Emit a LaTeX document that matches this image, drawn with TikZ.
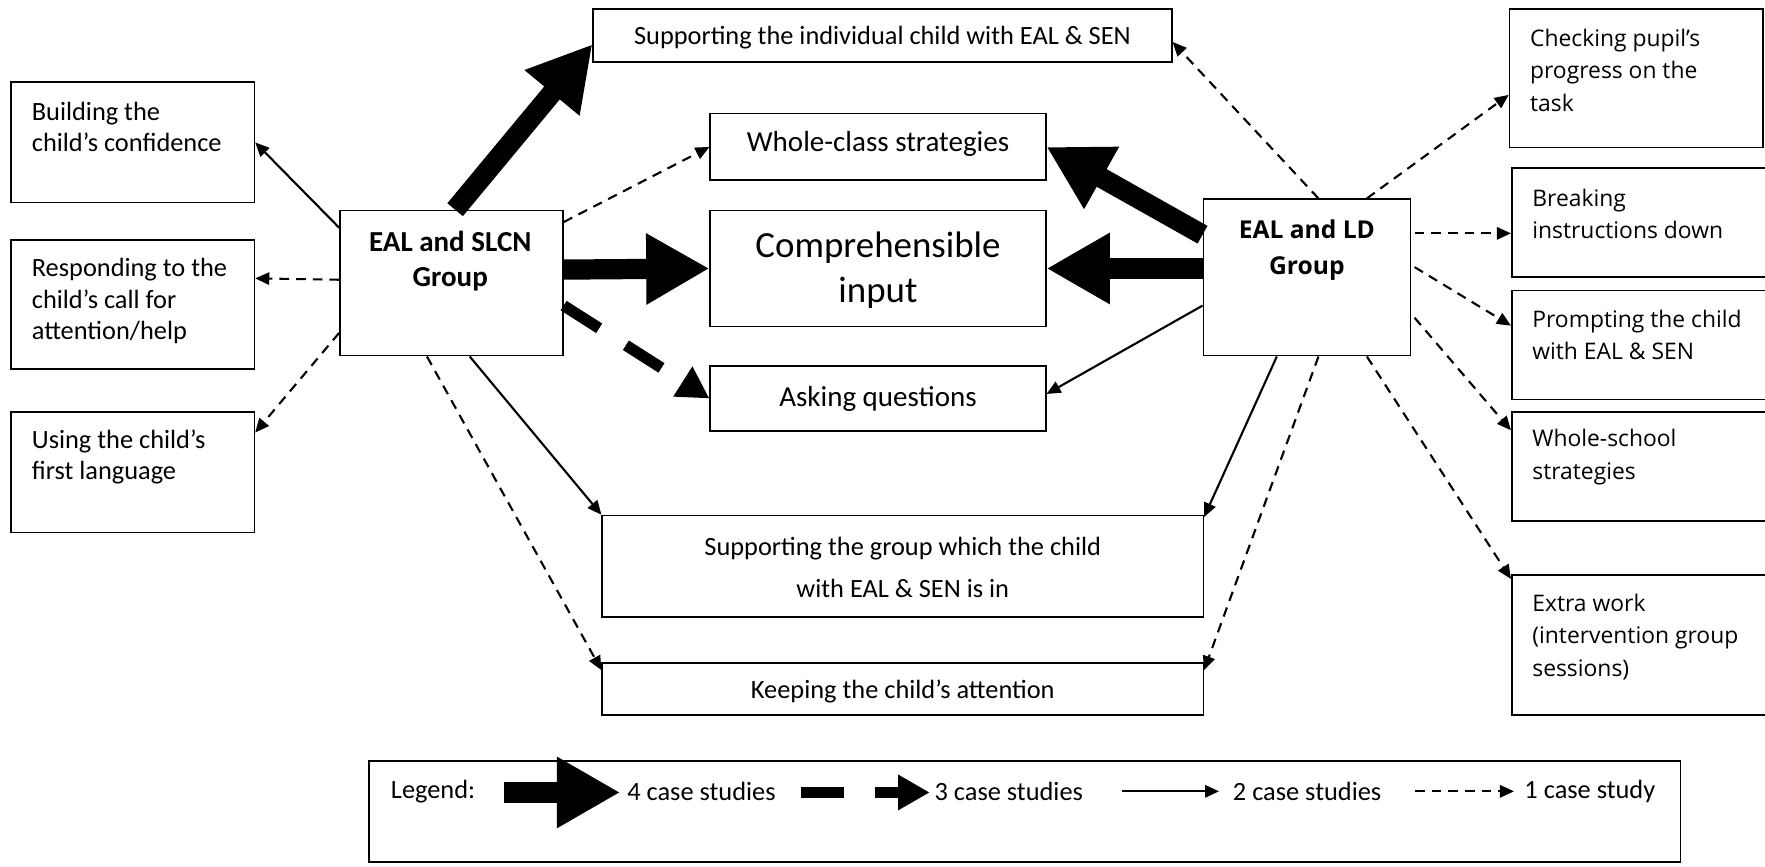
\documentclass[tikz,border=0pt]{standalone}
\usepackage{fontspec}
\setmainfont{Carlito}
\newfontfamily\rfont{Open Sans}
\usetikzlibrary{arrows.meta,fit}

\begin{document}
\begin{tikzpicture}[x=0.022513cm, y=-0.022513cm,
  box/.style={draw, line width=0.9pt, inner sep=0pt},
  txt/.style={inner sep=0pt, align=left, font=\fontsize{15}{17.9}\selectfont},
  ctxt/.style={inner sep=0pt, align=center, font=\fontsize{15}{17.9}\selectfont},
  rtxt/.style={inner sep=0pt, align=left, font=\rfont\fontsize{13}{18.5}\selectfont},
  fourcase/.style={line width=11.5pt, -{Triangle[length=36pt,width=38pt]}},
  threecase/.style={line width=6.4pt, dash pattern=on 24pt off 18pt, -{Triangle[length=18pt,width=19pt]}},
  twocase/.style={line width=1.2pt, -{Triangle[length=8pt,width=7pt]}},
  onecase/.style={line width=1.2pt, dash pattern=on 5.5pt off 4pt, -{Triangle[length=8pt,width=7pt]}}]
\useasboundingbox (0,0) rectangle (1568,770);
\clip (0,0) rectangle (1568,770);

% boxes
\node[box, fit={(10,73) (226,180)}] (conf) {};
\node[box, fit={(10,213) (226,328)}] (resp) {};
\node[box, fit={(10,366) (226,473)}] (lang) {};
\node[box, fit={(302,187) (500,316)}] (slcn) {};
\node[box, fit={(527,8) (1041,55)}] (indiv) {};
\node[box, fit={(631,101) (929,160)}] (wcs) {};
\node[box, fit={(631,187) (929,290)}] (ci) {};
\node[box, fit={(631,325) (929,383)}] (ask) {};
\node[box, fit={(535,458) (1069,548)}] (grp) {};
\node[box, fit={(535,589) (1069,635)}] (keep) {};
\node[box, fit={(1069,177) (1253,316)}] (ld) {};
\node[box, fit={(1341,8) (1566,131)}] (check) {};
\node[box, fit={(1343,149) (1575,246)}] (brk) {};
\node[box, fit={(1343,258) (1575,355)}] (prompt) {};
\node[box, fit={(1343,366) (1575,463)}] (school) {};
\node[box, fit={(1343,511) (1575,635)}] (extra) {};
\node[box, fit={(328,676) (1493,766)}] (legend) {};

% texts
\node[txt, anchor=west] (confT) at (28,113) {Building the\\child’s confidence};
\node[txt, anchor=west] (respT) at (28,267.5) {Responding to the\\child’s call for\\attention/help};
\node[txt, anchor=west] (langT) at (28,406) {Using the child’s\\first language};
\node[ctxt, font=\bfseries\fontsize{16.5}{19.8}\selectfont] (slcnT) at (400,232) {EAL and SLCN\\Group};
\node[ctxt] (indivT) at (784,33) {Supporting the individual child with EAL \& SEN};
\node[ctxt, font=\fontsize{16.5}{19.8}\selectfont] (wcsT) at (780,128) {Whole-class strategies};
\node[ctxt, font=\fontsize{21}{25.6}\selectfont] (ciT) at (780,240) {Comprehensible\\input};
\node[ctxt, font=\fontsize{16.5}{19.8}\selectfont] (askT) at (780,354) {Asking questions};
\node[ctxt, font=\fontsize{15}{24.3}\selectfont] (grpT) at (802,504) {Supporting the group which the child\\with EAL \& SEN is in};
\node[ctxt] (keepT) at (802,614) {Keeping the child’s attention};
\node[ctxt, font=\rfont\bfseries\fontsize{14}{20.5}\selectfont] (ldT) at (1161,222) {EAL and LD\\Group};
\node[rtxt, anchor=west] (checkT) at (1359,62.5) {Checking pupil’s\\progress on the\\task};
\node[rtxt, anchor=west] (brkT) at (1361,190) {Breaking\\instructions down};
\node[rtxt, anchor=west] (promptT) at (1361,297.5) {Prompting the child\\with EAL \& SEN};
\node[rtxt, anchor=west] (schoolT) at (1361,406) {Whole-school\\strategies};
\node[rtxt, anchor=west] (extraT) at (1361,566) {Extra work\\(intervention group\\sessions)};

% legend
\node[txt, anchor=west] (legT) at (347,703) {Legend:};
\node[txt, anchor=west] (leg4) at (557,703) {4 case studies};
\node[txt, anchor=west] (leg3) at (830,703) {3 case studies};
\node[txt, anchor=west] (leg2) at (1095,703) {2 case studies};
\node[txt, anchor=west] (leg1) at (1354,703) {1 case study};
\coordinate (l4s) at (448,704);
\coordinate (l4e) at (551,704);
\coordinate (l3s) at (712,704);
\coordinate (l3e) at (826,704);
\coordinate (l2s) at (997,703);
\coordinate (l2e) at (1083,703);
\coordinate (l1s) at (1257,703);
\coordinate (l1e) at (1345,703);
\draw[fourcase] (l4s) -- (l4e);
\draw[threecase] (l3s) -- (l3e);
\draw[twocase] (l2s) -- (l2e);
\draw[onecase] (l1s) -- (l1e);

% EAL and SLCN group
\draw[fourcase] ([shift={(103,0)}]slcn.north west) -- ([shift={(0,32)}]indiv.north west);
\draw[fourcase] ([shift={(0,-12)}]slcn.east) -- (ci.west);
\draw[threecase] ([shift={(0,20)}]slcn.east) -- (ask.west);
\draw[onecase] ([shift={(0,11)}]slcn.north east) -- (wcs.west);
\draw[twocase] ([shift={(0,16)}]slcn.north west) -- (conf.east);
\draw[onecase] ([shift={(0,-3)}]slcn.west) -- ([shift={(0,35)}]resp.north east);
\draw[onecase] ([shift={(0,-21)}]slcn.south west) -- ([shift={(0,19)}]lang.north east);
\draw[twocase] ([shift={(116,0)}]slcn.south west) -- (grp.north west);
\draw[onecase] ([shift={(78,0)}]slcn.south west) -- ([shift={(0,7)}]keep.north west);

% EAL and LD group
\draw[fourcase] ([shift={(0,-38)}]ld.west) -- (wcs.east);
\draw[fourcase] ([shift={(0,-8)}]ld.west) -- (ci.east);
\draw[twocase] ([shift={(0,25)}]ld.west) -- ([shift={(0,-4)}]ask.east);
\draw[twocase] ([shift={(66,0)}]ld.south west) -- ([shift={(0,2)}]grp.north east);
\draw[onecase] ([shift={(103,0)}]ld.south west) -- ([shift={(0,7)}]keep.north east);
\draw[onecase] ([shift={(103,0)}]ld.north west) -- ([shift={(0,30)}]indiv.north east);
\draw[onecase] ([shift={(146,0)}]ld.north west) -- ([shift={(0,77)}]check.north west);
\draw[onecase] ([shift={(3,31)}]ld.north east) -- ([shift={(0,59)}]brk.north west);
\draw[onecase] ([shift={(3,61)}]ld.north east) -- ([shift={(0,32)}]prompt.north west);
\draw[onecase] ([shift={(3,106)}]ld.north east) -- ([shift={(0,17)}]school.north west);
\draw[onecase] ([shift={(146,0)}]ld.south west) -- ([shift={(0,4)}]extra.north west);
\end{tikzpicture}
\end{document}
